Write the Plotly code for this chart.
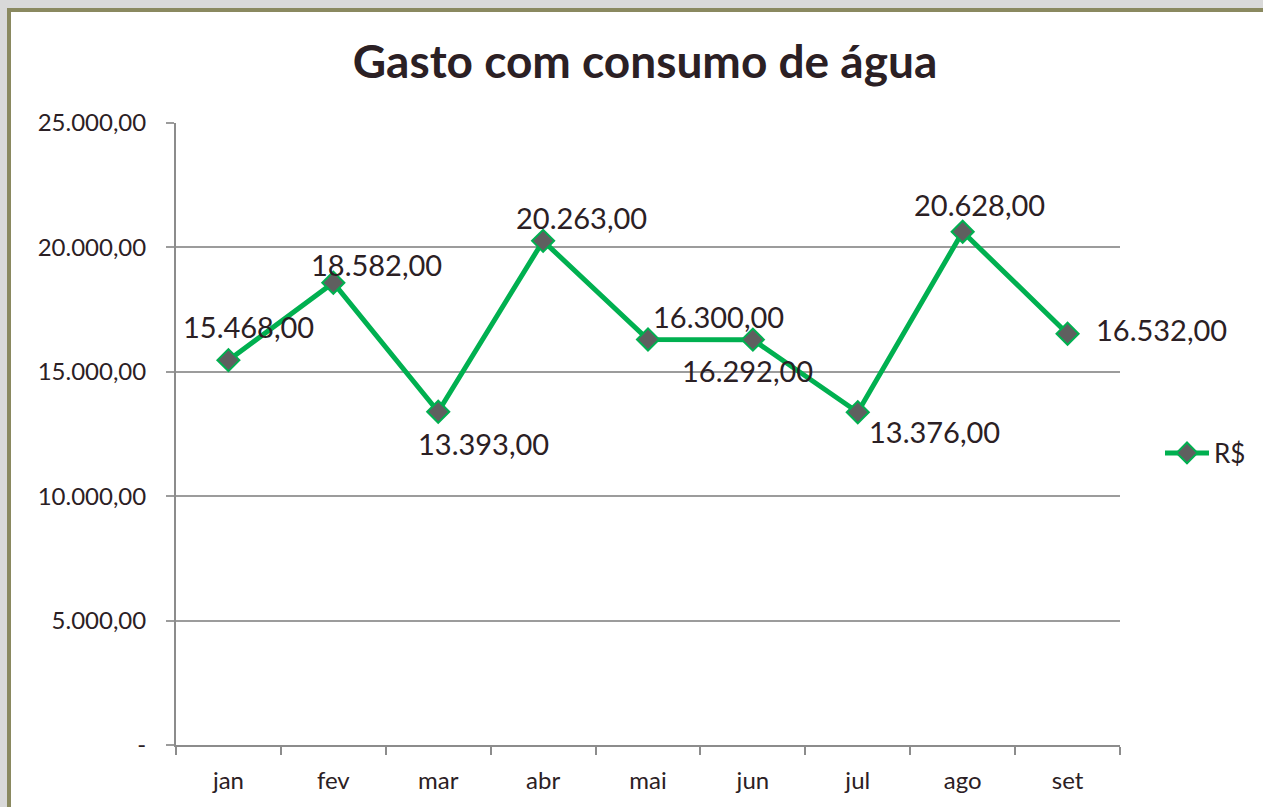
import plotly.graph_objects as go

months = ["jan", "fev", "mar", "abr", "mai", "jun", "jul", "ago", "set"]
values = [15468, 18582, 13393, 20263, 16300, 16292, 13376, 20628, 16532]
series_name = "R$"
title_text = "Gasto com consumo de água"
y_tickvals = [0, 5000, 10000, 15000, 20000, 25000]
y_ticktext = ["-", "5.000,00", "10.000,00", "15.000,00", "20.000,00", "25.000,00"]

# label offsets (px) relative to each point: style only
label_dx = [20, 43, 45, 38, 70, -5, 77, 17, 94]
label_dy = [34, 18, -32, 23, 23, -31, -19, 27, 4]

def fmt_br(v):
    s = f"{v:,.2f}"
    return s.replace(",", "X").replace(".", ",").replace("X", ".")

FONT = "Lato"
TXT = "#2b2024"
GREEN = "#00b050"

W, H = 1263, 807
L, R, T, B = 176, 143, 123, 62
pw, ph = W - L - R, H - T - B

def px_x(p):
    return (p - L) / pw

def px_y(p):
    return (H - B - p) / ph

fig = go.Figure()
fig.add_trace(go.Scatter(
    x=months, y=values, name=series_name, mode="lines+markers",
    line=dict(color=GREEN, width=5),
    marker=dict(symbol="diamond", size=17, color="#5f5f5f",
                line=dict(color=GREEN, width=2)),
    cliponaxis=False,
))

for m, v, dx, dy in zip(months, values, label_dx, label_dy):
    fig.add_annotation(x=m, y=v, text=fmt_br(v), showarrow=False,
                       xshift=dx, yshift=dy,
                       font=dict(family=FONT, size=29, color=TXT))

# chart frame
fig.add_shape(type="rect", xref="paper", yref="paper",
              x0=px_x(9), x1=px_x(1300), y0=px_y(840), y1=px_y(10),
              fillcolor="white", line=dict(color="#8a8960", width=4),
              layer="below")

fig.update_layout(
    width=W, height=H,
    margin=dict(l=L, r=R, t=T, b=B),
    paper_bgcolor="#d9d9d9",
    plot_bgcolor="rgba(0,0,0,0)",
    font=dict(family=FONT, color=TXT),
    title=dict(text="<b>" + title_text + "</b>", x=(645 / W), xanchor="center",
               y=1 - 62 / H, yanchor="middle",
               font=dict(family=FONT, size=46, color=TXT)),
    showlegend=True,
    legend=dict(x=px_x(1160), y=px_y(453), xanchor="left", yanchor="middle",
                font=dict(family=FONT, size=26, color=TXT),
                bgcolor="rgba(0,0,0,0)", itemwidth=44),
    xaxis=dict(type="category", range=[-0.5, 8.5], showgrid=False,
               showline=True, linecolor="#8c8c8c", linewidth=2,
               ticks="outside", ticklen=8, tickcolor="#8c8c8c", tickwidth=2,
               tickson="boundaries", ticklabelstandoff=13,
               tickfont=dict(family=FONT, size=24, color=TXT), zeroline=False),
    yaxis=dict(range=[0, 25000], tickvals=y_tickvals, ticktext=y_ticktext,
               showgrid=True, gridcolor="#9c9c9c", gridwidth=1.5,
               showline=True, linecolor="#8c8c8c", linewidth=2,
               ticks="outside", ticklen=8, tickcolor="#9c9c9c", tickwidth=1.5,
               ticklabelstandoff=15, zeroline=False,
               tickfont=dict(family=FONT, size=24, color=TXT)),
)

fig.write_html(
    "out.html",
    config={"displayModeBar": False},
    post_script="document.body.style.margin='0';document.body.style.background='#d9d9d9';",
)
